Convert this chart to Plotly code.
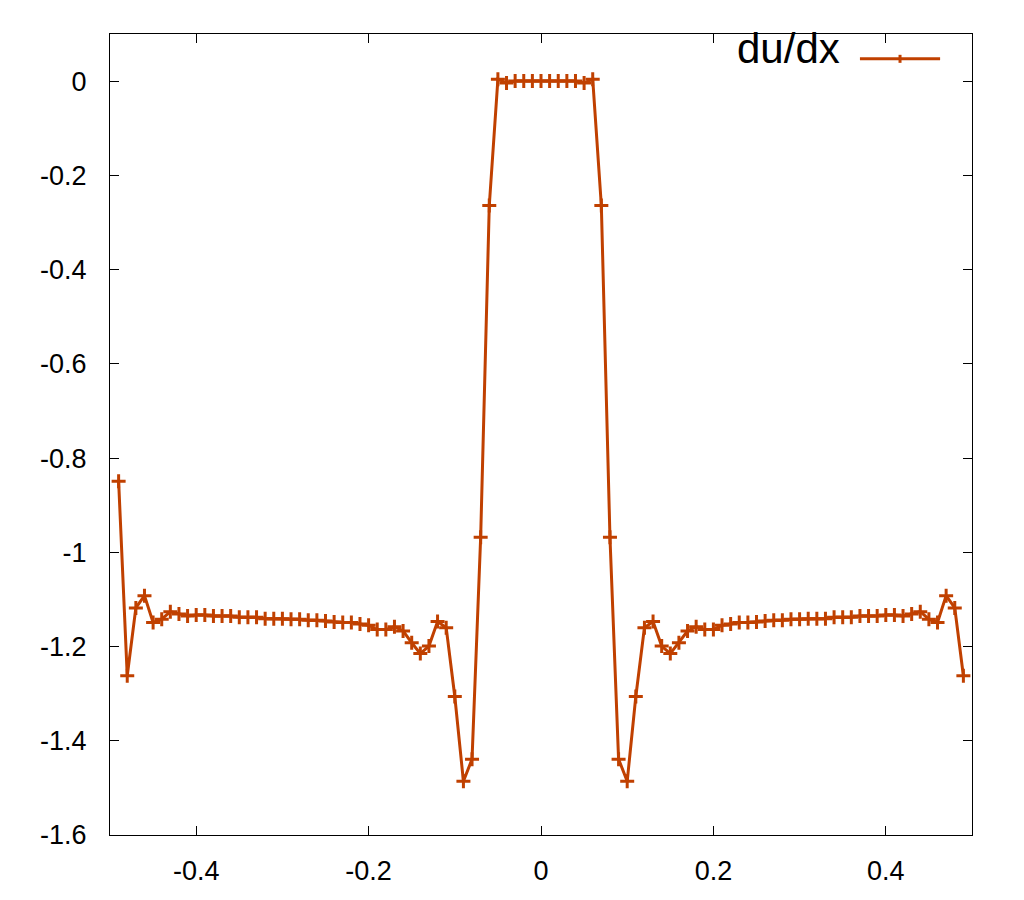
import numpy as np
import plotly.graph_objects as go

LINE_COLOR = '#c04000'
FONT = 'Liberation Sans, Arial, sans-serif'

# x positions: -0.49 ... 0.49, step 0.01
x_vals = np.round(np.arange(-49, 50) * 0.01, 2)

# du/dx values
dudx = [
    -0.849, -1.262, -1.118, -1.092, -1.149, -1.142, -1.126, -1.131, -1.135, -1.133,
    -1.133, -1.135, -1.135, -1.135, -1.138, -1.138, -1.138, -1.141, -1.141, -1.141,
    -1.142, -1.142, -1.144, -1.144, -1.146, -1.148, -1.149, -1.149, -1.152, -1.155,
    -1.164, -1.164, -1.158, -1.167, -1.192, -1.215, -1.199, -1.147, -1.160, -1.306,
    -1.486, -1.439, -0.968, -0.264, 0.004, -0.004,
    0.0, 0.0, 0.0, 0.0, 0.0, 0.0, 0.0, 0.0,
    -0.004, 0.004, -0.264, -0.968, -1.439, -1.486, -1.306, -1.160, -1.147, -1.199,
    -1.215, -1.192, -1.167, -1.158, -1.164, -1.164, -1.155, -1.152, -1.149, -1.149,
    -1.148, -1.146, -1.144, -1.144, -1.142, -1.142, -1.141, -1.141, -1.141, -1.138,
    -1.138, -1.138, -1.135, -1.135, -1.135, -1.133, -1.133, -1.135, -1.131, -1.126,
    -1.142, -1.149, -1.092, -1.118, -1.262,
]

x_tickvals = [-0.4, -0.2, 0, 0.2, 0.4]
x_ticktext = ['-0.4', '-0.2', '0', '0.2', '0.4']
y_tickvals = [-1.6, -1.4, -1.2, -1.0, -0.8, -0.6, -0.4, -0.2, 0]
y_ticktext = ['-1.6', '-1.4', '-1.2', '-1', '-0.8', '-0.6', '-0.4', '-0.2', '0']

fig = go.Figure()
fig.add_trace(go.Scatter(
    x=x_vals, y=dudx, mode='lines+markers', name='du/dx',
    line=dict(color=LINE_COLOR, width=3),
    marker=dict(symbol='cross-thin-open', size=10, line=dict(color=LINE_COLOR, width=3)),
    showlegend=False
))

# gnuplot-style key: text on the left, sample on the right
fig.add_annotation(
    text='du/dx', xref='paper', yref='paper', x=0.849, y=0.9825,
    xanchor='right', yanchor='middle', showarrow=False,
    font=dict(family=FONT, size=42, color='black')
)
fig.add_shape(type='line', xref='paper', yref='paper', x0=0.870, x1=0.963, y0=0.969, y1=0.969,
              line=dict(color=LINE_COLOR, width=3))
fig.add_shape(type='line', xref='paper', yref='paper', x0=0.9165, x1=0.9165, y0=0.964, y1=0.974,
              line=dict(color=LINE_COLOR, width=3))

# page body adds 8px on the left/top, so the figure is 1016x892
fig.update_layout(
    width=1016, height=892,
    margin=dict(l=102, r=52, t=26, b=65),
    plot_bgcolor='white', paper_bgcolor='white',
    font=dict(family=FONT, size=27, color='black'),
)
fig.update_xaxes(
    range=[-0.5, 0.5], tickmode='array', tickvals=x_tickvals, ticktext=x_ticktext,
    showgrid=False, zeroline=False, showline=True, linecolor='black', linewidth=1,
    mirror='allticks', ticks='inside', ticklen=9, tickcolor='black', ticklabelstandoff=12
)
fig.update_yaxes(
    range=[-1.6, 0.1], tickmode='array', tickvals=y_tickvals, ticktext=y_ticktext,
    showgrid=False, zeroline=False, showline=True, linecolor='black', linewidth=1,
    mirror='allticks', ticks='inside', ticklen=9, tickcolor='black', ticklabelstandoff=17
)

fig.write_html('out.html')
